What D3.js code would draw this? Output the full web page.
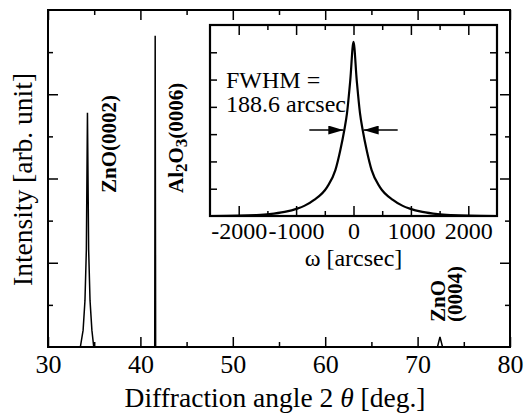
<!DOCTYPE html>
<html>
<head>
<meta charset="utf-8">
<script src="https://cdn.jsdelivr.net/npm/d3@7"></script>
<style>
  body { margin: 0; background: #fff; }
  svg text { font-family: "Liberation Serif", "Times New Roman", serif; fill: #000; }
</style>
</head>
<body>
<div id="chart"></div>
<script>
// 2θ scan (main)
const twoTheta  = [30, 33.5, 33.8, 34.0, 34.15, 34.27, 34.4, 34.55, 34.75, 34.95, 41.55, 41.6, 41.65, 72.15, 72.42, 72.7, 80];
const intensity = [0, 0, 0.4, 1.1, 2.3, 5.56, 2.3, 1.1, 0.4, 0, 0, 7.39, 0, 0, 0.24, 0, 0];
const xTicks = [30, 40, 50, 60, 70, 80];

// ω rocking curve (inset)
const omega   = [-2500, -2000, -1700, -1467, -1200, -981, -850, -686, -460, -316, -229, -160, -113, -56, 0, 56, 113, 160, 229, 316, 460, 686, 850, 981, 1200, 1467, 1700, 2000, 2500];
const rocking = [0, 0.012, 0.035, 0.07, 0.15, 0.27, 0.38, 0.59, 1.06, 1.68, 2.42, 3.15, 3.77, 4.98, 6.38, 4.98, 3.77, 3.15, 2.42, 1.68, 1.06, 0.59, 0.38, 0.27, 0.15, 0.07, 0.035, 0.012, 0];
const omegaTicks = [-2000, -1000, 0, 1000, 2000];
const fwhmAt = [-160, 160];   // arrow tips at half maximum
const fwhmLevel = 3.15;

const W = 526, H = 414, M = { t: 10, r: 16, b: 67, l: 48 };
const svg = d3.select('#chart').append('svg').attr('width', W).attr('height', H).attr('viewBox', `0 0 ${W} ${H}`);

const x = d3.scaleLinear().domain([30, 80]).range([M.l, W - M.r]);
const y = d3.scaleLinear().domain([0, 8]).range([H - M.b, M.t]);

function ticksOnly(g) { g.select('.domain').remove(); }

// main ticks, all pointing inward
svg.append('g').attr('transform', `translate(0,${H - M.b})`)
  .call(d3.axisBottom(x).tickValues(d3.range(35, 80, 10)).tickSize(-5).tickFormat('')).call(ticksOnly);
const xAx = svg.append('g').attr('transform', `translate(0,${H - M.b})`)
  .call(d3.axisBottom(x).tickValues(xTicks).tickSize(-10).tickPadding(8).tickFormat(d3.format('d'))).call(ticksOnly);
xAx.selectAll('text').attr('font-size', 26).attr('font-family', '"Liberation Serif", serif');
svg.append('g').attr('transform', `translate(0,${M.t})`)
  .call(d3.axisTop(x).tickValues(d3.range(35, 80, 10)).tickSize(-5).tickFormat('')).call(ticksOnly);
svg.append('g').attr('transform', `translate(0,${M.t})`)
  .call(d3.axisTop(x).tickValues(xTicks).tickSize(-10).tickFormat('')).call(ticksOnly);

svg.append('g').attr('transform', `translate(${M.l},0)`)
  .call(d3.axisLeft(y).tickValues([1, 3, 5, 7]).tickSize(-5).tickFormat('')).call(ticksOnly);
svg.append('g').attr('transform', `translate(${M.l},0)`)
  .call(d3.axisLeft(y).tickValues([2, 4, 6]).tickSize(-10).tickFormat('')).call(ticksOnly);
svg.append('g').attr('transform', `translate(${W - M.r},0)`)
  .call(d3.axisRight(y).tickValues([1, 3, 5, 7]).tickSize(-5).tickFormat('')).call(ticksOnly);
svg.append('g').attr('transform', `translate(${W - M.r},0)`)
  .call(d3.axisRight(y).tickValues([2, 4, 6]).tickSize(-10).tickFormat('')).call(ticksOnly);
svg.selectAll('.tick line').attr('stroke-width', 1.5);

svg.append('path')
  .datum(twoTheta.map((t, i) => [t, intensity[i]]))
  .attr('fill', 'none').attr('stroke', '#000').attr('stroke-width', 1.5)
  .attr('d', d3.line().x(d => x(d[0])).y(d => y(d[1])));

svg.append('rect').attr('x', M.l).attr('y', M.t).attr('width', W - M.l - M.r).attr('height', H - M.t - M.b)
  .attr('fill', 'none').attr('stroke', '#000').attr('stroke-width', 2);

// axis titles
const xt = svg.append('text').attr('x', 275).attr('y', 407).attr('text-anchor', 'middle').attr('font-size', 27.5);
xt.append('tspan').text('Diffraction angle 2 ');
xt.append('tspan').attr('font-style', 'italic').text('θ');
xt.append('tspan').text(' [deg.]');
svg.append('text').attr('transform', `translate(32,${(M.t + H - M.b) / 2 + 1}) rotate(-90)`)
  .attr('text-anchor', 'middle').attr('font-size', 27.5).text('Intensity [arb. unit]');

// peak labels
const lab = (tx, ty) => svg.append('text').attr('transform', `translate(${tx},${ty}) rotate(-90)`)
  .attr('font-size', 21).attr('font-weight', 'bold');
lab(116, 193).text('ZnO(0002)');
const al = lab(183, 193);
al.append('tspan').text('Al');
al.append('tspan').attr('font-size', 17).attr('dy', 4).text('2');
al.append('tspan').attr('dy', -4).text('O');
al.append('tspan').attr('font-size', 17).attr('dy', 4).text('3');
al.append('tspan').attr('dy', -4).text('(0006)');
lab(445, 322).text('ZnO');
lab(462, 322).text('(0004)');

// ---- inset: rocking curve ----
const I = { l: 210, r: 497, t: 25, b: 216 };
const xi = d3.scaleLinear().domain([-2500, 2500]).range([I.l, I.r]);
const yi = d3.scaleLinear().domain([0, 7]).range([I.b, I.t]);
const inset = svg.append('g');
inset.append('rect').attr('x', I.l).attr('y', I.t).attr('width', I.r - I.l).attr('height', I.b - I.t).attr('fill', '#fff');

inset.append('g').attr('transform', `translate(0,${I.b})`)
  .call(d3.axisBottom(xi).tickValues(d3.range(-1500, 2500, 1000)).tickSize(-5).tickFormat('')).call(ticksOnly);
const xiAx = inset.append('g').attr('transform', `translate(0,${I.b})`)
  .call(d3.axisBottom(xi).tickValues(omegaTicks).tickSize(-10).tickPadding(6).tickFormat(d => d)).call(ticksOnly);
xiAx.selectAll('text').attr('font-size', 24).attr('font-family', '"Liberation Serif", serif');
inset.append('g').attr('transform', `translate(0,${I.t})`)
  .call(d3.axisTop(xi).tickValues(d3.range(-1500, 2500, 1000)).tickSize(-5).tickFormat('')).call(ticksOnly);
inset.append('g').attr('transform', `translate(0,${I.t})`)
  .call(d3.axisTop(xi).tickValues(omegaTicks).tickSize(-10).tickFormat('')).call(ticksOnly);
inset.append('g').attr('transform', `translate(${I.l},0)`)
  .call(d3.axisLeft(yi).tickValues(d3.range(1, 7)).tickSize(-7).tickFormat('')).call(ticksOnly);
inset.append('g').attr('transform', `translate(${I.r},0)`)
  .call(d3.axisRight(yi).tickValues(d3.range(1, 7)).tickSize(-7).tickFormat('')).call(ticksOnly);
inset.selectAll('.tick line').attr('stroke-width', 1.5);

inset.append('path')
  .datum(omega.map((w, i) => [w, rocking[i]]))
  .attr('fill', 'none').attr('stroke', '#000').attr('stroke-width', 2.2)
  .attr('d', d3.line().x(d => xi(d[0])).y(d => yi(d[1])).curve(d3.curveMonotoneX));

inset.append('rect').attr('x', I.l).attr('y', I.t).attr('width', I.r - I.l).attr('height', I.b - I.t)
  .attr('fill', 'none').attr('stroke', '#000').attr('stroke-width', 2.2);

// FWHM arrows
const defs = svg.append('defs');
defs.append('marker').attr('id', 'ah').attr('viewBox', '0 0 10 6').attr('refX', 10).attr('refY', 3)
  .attr('markerWidth', 15).attr('markerHeight', 9).attr('markerUnits', 'userSpaceOnUse').attr('orient', 'auto')
  .append('path').attr('d', 'M0,0L10,3L0,6Z').attr('fill', '#000');
inset.append('line').attr('x1', xi(fwhmAt[0]) - 35).attr('x2', xi(fwhmAt[0]) - 1)
  .attr('y1', yi(fwhmLevel)).attr('y2', yi(fwhmLevel)).attr('stroke', '#000').attr('stroke-width', 1.5).attr('marker-end', 'url(#ah)');
inset.append('line').attr('x1', xi(fwhmAt[1]) + 35).attr('x2', xi(fwhmAt[1]) + 1)
  .attr('y1', yi(fwhmLevel)).attr('y2', yi(fwhmLevel)).attr('stroke', '#000').attr('stroke-width', 1.5).attr('marker-end', 'url(#ah)');

inset.append('text').attr('x', 226).attr('y', 88).attr('font-size', 24).text('FWHM =');
inset.append('text').attr('x', 226).attr('y', 112).attr('font-size', 24).text('188.6 arcsec');
inset.append('text').attr('x', (I.l + I.r) / 2).attr('y', 266).attr('text-anchor', 'middle').attr('font-size', 24).text('ω [arcsec]');
</script>
</body>
</html>
